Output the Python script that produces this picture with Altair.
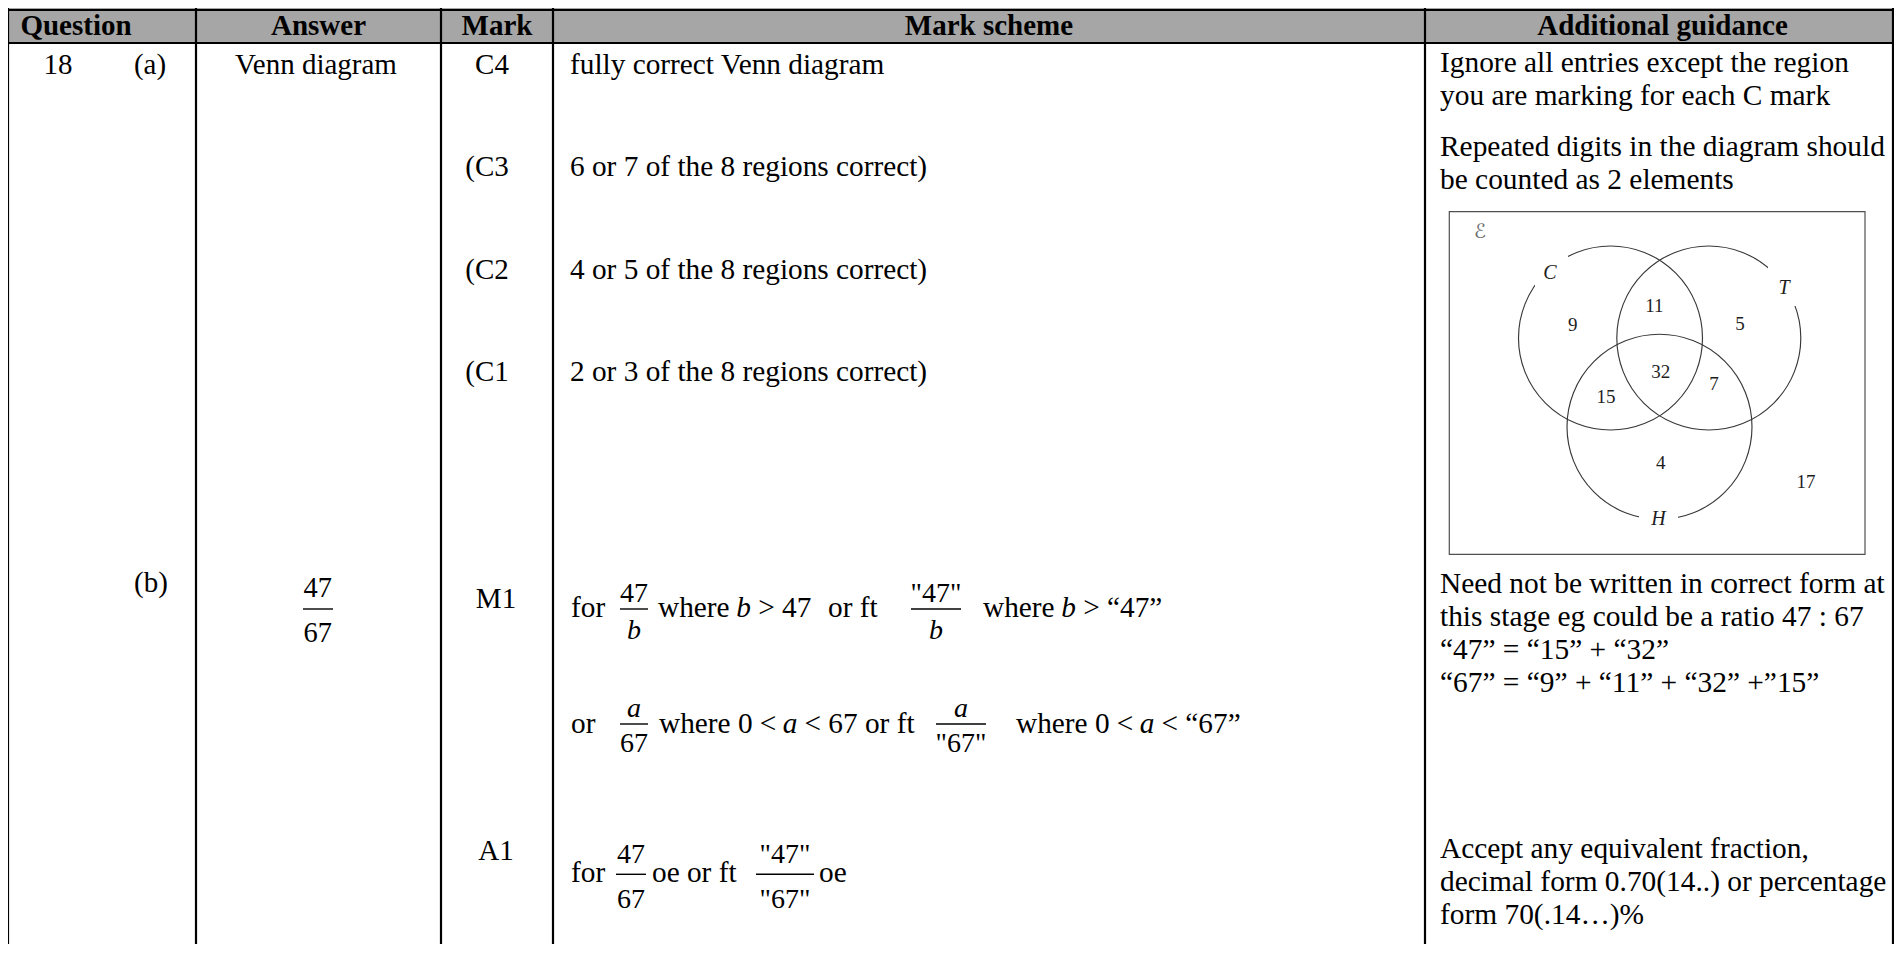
import altair as alt
import pandas as pd

FONT = "Liberation Serif"

# ------------------------------------------------------------------ content
HEADERS = ["Question", "Answer", "Mark", "Mark scheme", "Additional guidance"]
QUESTION = ["18", "(a)", "(b)"]
ANSWER_A = ["Venn diagram"]
ANSWER_B = ["47", "67"]  # numerator, denominator
MARKS = ["C4", "(C3", "(C2", "(C1", "M1", "A1"]
SCHEME_A = [
    "fully correct Venn diagram",
    "6 or 7 of the 8 regions correct)",
    "4 or 5 of the 8 regions correct)",
    "2 or 3 of the 8 regions correct)",
]
SCHEME_B_PLAIN = [
    "for", "where", "> 47", "or ft", "where", "> \u201c47\u201d",
    "or", "where 0 <", "< 67 or ft", "where 0 <", "< \u201c67\u201d",
    "for", "oe or ft", "oe",
]
SCHEME_B_ITALIC = ["b", "b", "a", "a"]
FRAC_NUM = ["47", "\"47\"", "a", "a", "47", "\"47\""]
FRAC_NUM_ITALIC = [False, False, True, True, False, False]
FRAC_DEN = ["b", "b", "67", "\"67\"", "67", "\"67\""]
FRAC_DEN_ITALIC = [True, True, False, False, False, False]
GUIDANCE = [
    "Ignore all entries except the region",
    "you are marking for each C mark",
    "Repeated digits in the diagram should",
    "be counted as 2 elements",
    "Need not be written in correct form at",
    "this stage eg could be a ratio 47 : 67",
    "\u201c47\u201d = \u201c15\u201d + \u201c32\u201d",
    "\u201c67\u201d = \u201c9\u201d + \u201c11\u201d + \u201c32\u201d +\u201d15\u201d",
    "Accept any equivalent fraction,",
    "decimal form 0.70(14..) or percentage",
    "form 70(.14\u2026)%",
]
VENN_SETS = ["C", "T", "H"]
VENN_COUNTS = ["9", "11", "5", "32", "15", "7", "4", "17"]
UNIVERSAL = ["\u2130"]

# ------------------------------------------------------------------ layout (page pixels)
X0, X1 = 8, 1894
Y0, Y1 = 8, 944
COL_EDGES = [8, 196, 441, 553, 1425, 1893]
HEADER_TOP, HEADER_BOTTOM = 10, 43

HEADERS_X = [76, 318.5, 497, 989, 1662.5]
HEADERS_Y = [34.5] * 5
QUESTION_X = [58, 150, 151]
QUESTION_Y = [74, 74, 592]
ANSWER_A_X, ANSWER_A_Y = [316], [74]
ANSWER_B_X = 317.7
ANSWER_B_NUM_Y, ANSWER_B_DEN_Y, ANSWER_B_BAR = 596.5, 641.5, (303, 333, 609)
MARKS_X = [492, 487, 487, 487, 496, 496]
MARKS_Y = [74, 176, 279, 381, 608, 860]
SCHEME_A_X = [570] * 4
SCHEME_A_Y = [74, 176, 279, 381]
SCHEME_B_PLAIN_X = [571, 658, 758.2, 828, 983, 1083.2,
                    571, 659, 804.5, 1016, 1161.5,
                    571, 652, 819]
SCHEME_B_PLAIN_Y = [617] * 6 + [733] * 5 + [881.7] * 3
SCHEME_B_ITALIC_X = [736.2, 1061.2, 782.7, 1139.7]
SCHEME_B_ITALIC_Y = [617, 617, 733, 733]
FRAC_X = [634, 936, 634, 961, 631, 785]
FRAC_NUM_Y = [601.5, 601.5, 716.5, 716.5, 863, 863]
FRAC_DEN_Y = [639, 639, 752, 752, 908, 908]
FRAC_BAR_X1 = [620, 911, 620, 936, 616, 756]
FRAC_BAR_X2 = [648, 961, 648, 986, 646, 814]
FRAC_BAR_Y = [609, 609, 724, 724, 874.3, 874.3]
GUIDANCE_X = [1440] * 11
GUIDANCE_Y = [72, 105, 156, 189, 593, 626, 659, 692, 858, 891, 924]

VENN_BOX = (1449.3, 1865, 211.7, 554.3)
VENN_CX = [1610.5, 1708.8, 1659.5]
VENN_CY = [338, 338, 426.8]
VENN_R = [92, 92, 92.5]
VENN_LABEL_X = [1550, 1784, 1658.5]
VENN_LABEL_Y = [272.5, 287.5, 518.5]
VENN_GAP = [(1535, 1568, 253, 291), (1768, 1796, 261, 306), (1639, 1678, 507, 532)]
VENN_COUNT_X = [1572.7, 1654.3, 1740, 1660.7, 1606, 1714, 1660.7, 1806]
VENN_COUNT_Y = [325, 306, 324.3, 372.3, 396.7, 384.3, 463.3, 481.7]
UNIVERSAL_X, UNIVERSAL_Y = [1480], [232]

W, H = X1 - X0, Y1 - Y0

XS = alt.Scale(domain=[X0, X1], nice=False, zero=False)
YS = alt.Scale(domain=[Y1, Y0], nice=False, zero=False)


def X(f="x"):
    return alt.X(f"{f}:Q", scale=XS, axis=None)


def Y(f="y"):
    return alt.Y(f"{f}:Q", scale=YS, axis=None)


def text_layer(texts, xs, ys, size, align="left", baseline="alphabetic",
               italic=False, bold=False, font=FONT, color="black"):
    df = pd.DataFrame({"text": texts, "x": xs, "y": ys})
    kw = dict(font=font, fontSize=size, align=align, baseline=baseline, color=color)
    if italic:
        kw["fontStyle"] = "italic"
    if bold:
        kw["fontWeight"] = "bold"
    return alt.Chart(df).mark_text(**kw).encode(x=X(), y=Y(), text="text:N")


layers = []

# header band
hdr = pd.DataFrame({"x": [X0], "x2": [X1], "y": [Y0], "y2": [HEADER_BOTTOM]})
layers.append(alt.Chart(hdr).mark_rect(color="#a6a6a6").encode(
    x=X(), x2="x2:Q", y=Y(), y2="y2:Q"))

# table rules
rx, rx2, ry, ry2 = [], [], [], []
for cx in COL_EDGES:
    rx.append(cx); rx2.append(cx); ry.append(Y0); ry2.append(Y1)
for hy in [HEADER_TOP, HEADER_BOTTOM]:
    rx.append(X0); rx2.append(X1); ry.append(hy); ry2.append(hy)
rules = pd.DataFrame({"x": rx, "x2": rx2, "y": ry, "y2": ry2})
layers.append(alt.Chart(rules).mark_rule(color="black", strokeWidth=2.2).encode(
    x=X(), x2="x2:Q", y=Y(), y2="y2:Q"))

# Venn box
box = pd.DataFrame({"x": [VENN_BOX[0]], "x2": [VENN_BOX[1]],
                    "y": [VENN_BOX[2]], "y2": [VENN_BOX[3]]})
layers.append(alt.Chart(box).mark_rect(fill="white", stroke="#505050", strokeWidth=1.2).encode(
    x=X(), x2="x2:Q", y=Y(), y2="y2:Q"))

# Venn circles (symbol size = (2r)^2 in pixels; scales are 1:1)
circ = pd.DataFrame({"x": VENN_CX, "y": VENN_CY, "size": [(2 * r) ** 2 for r in VENN_R]})
layers.append(alt.Chart(circ).mark_point(shape="circle", filled=False, color="#383838",
                                         strokeWidth=1.15, opacity=1).encode(
    x=X(), y=Y(), size=alt.Size("size:Q", scale=None)))

# gaps in the circles for the set labels
gap = pd.DataFrame({"x": [g[0] for g in VENN_GAP], "x2": [g[1] for g in VENN_GAP],
                    "y": [g[2] for g in VENN_GAP], "y2": [g[3] for g in VENN_GAP]})
layers.append(alt.Chart(gap).mark_rect(color="white").encode(
    x=X(), x2="x2:Q", y=Y(), y2="y2:Q"))

layers.append(text_layer(VENN_SETS, VENN_LABEL_X, VENN_LABEL_Y, 20, align="center",
                         baseline="middle", italic=True, color="#1e1e1e"))
layers.append(text_layer(VENN_COUNTS, VENN_COUNT_X, VENN_COUNT_Y, 19, align="center",
                         baseline="middle", color="#1e1e1e"))
layers.append(text_layer(UNIVERSAL, UNIVERSAL_X, UNIVERSAL_Y, 20, align="center",
                         baseline="middle", font="DejaVu Sans", color="#6a6a6a"))

# headers
layers.append(text_layer(HEADERS, HEADERS_X, HEADERS_Y, 29, align="center", bold=True))

# body texts
layers.append(text_layer(QUESTION, QUESTION_X, QUESTION_Y, 29, align="center"))
layers.append(text_layer(ANSWER_A, ANSWER_A_X, ANSWER_A_Y, 29, align="center"))
layers.append(text_layer(MARKS, MARKS_X, MARKS_Y, 29, align="center"))
layers.append(text_layer(SCHEME_A, SCHEME_A_X, SCHEME_A_Y, 29.3))
layers.append(text_layer(SCHEME_B_PLAIN, SCHEME_B_PLAIN_X, SCHEME_B_PLAIN_Y, 29.3))
layers.append(text_layer(SCHEME_B_ITALIC, SCHEME_B_ITALIC_X, SCHEME_B_ITALIC_Y, 29.3, italic=True))
layers.append(text_layer(GUIDANCE, GUIDANCE_X, GUIDANCE_Y, 29.4))

# answer fraction
layers.append(text_layer(ANSWER_B, [ANSWER_B_X, ANSWER_B_X],
                         [ANSWER_B_NUM_Y, ANSWER_B_DEN_Y], 28.5, align="center"))

# scheme fractions
for italic in (False, True):
    nt = [t for t, i in zip(FRAC_NUM, FRAC_NUM_ITALIC) if i == italic]
    nx = [x for x, i in zip(FRAC_X, FRAC_NUM_ITALIC) if i == italic]
    ny = [y for y, i in zip(FRAC_NUM_Y, FRAC_NUM_ITALIC) if i == italic]
    dt = [t for t, i in zip(FRAC_DEN, FRAC_DEN_ITALIC) if i == italic]
    dx = [x for x, i in zip(FRAC_X, FRAC_DEN_ITALIC) if i == italic]
    dy = [y for y, i in zip(FRAC_DEN_Y, FRAC_DEN_ITALIC) if i == italic]
    layers.append(text_layer(nt + dt, nx + dx, ny + dy, 28, align="center", italic=italic))

bars = pd.DataFrame({
    "x": FRAC_BAR_X1 + [ANSWER_B_BAR[0]],
    "x2": FRAC_BAR_X2 + [ANSWER_B_BAR[1]],
    "y": FRAC_BAR_Y + [ANSWER_B_BAR[2]],
})
layers.append(alt.Chart(bars).mark_rule(color="black", strokeWidth=1.4).encode(
    x=X(), x2="x2:Q", y=Y()))

chart = alt.layer(*layers).properties(
    width=W, height=H,
    autosize=alt.AutoSizeParams(type="none"),
    padding=0,
    background="white",
).configure_view(stroke=None)

chart.save("out.html", embed_options={"renderer": "svg", "actions": False})
